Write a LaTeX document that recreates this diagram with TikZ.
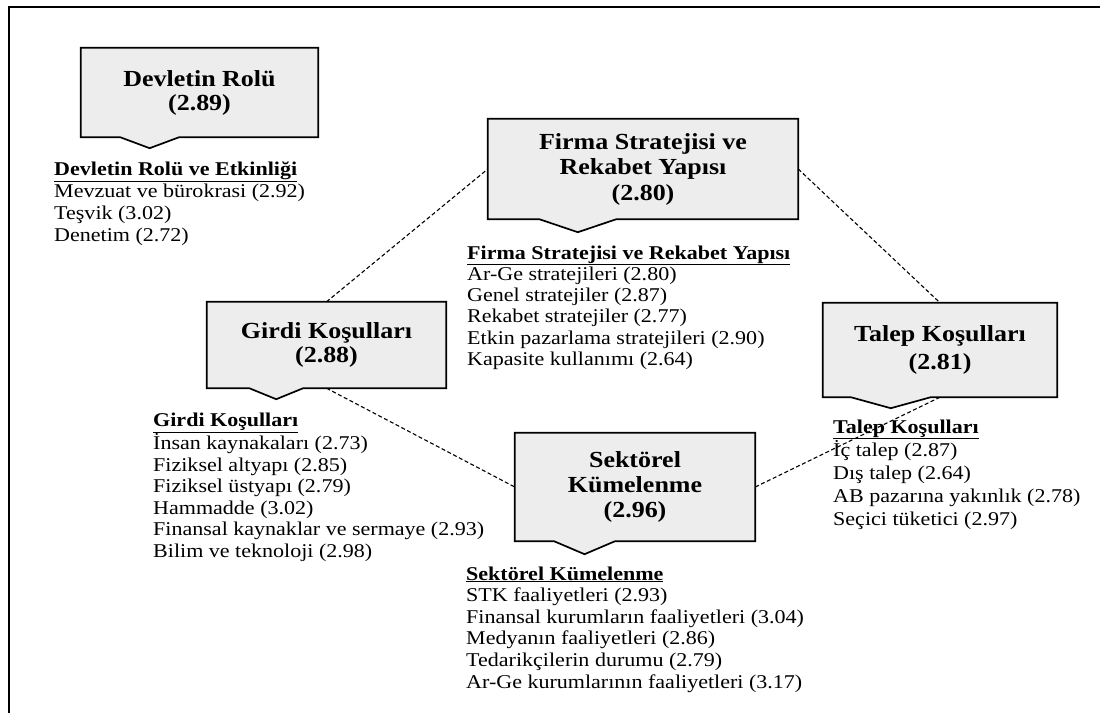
\documentclass[tikz,border=0pt]{standalone}
\usepackage{fontspec}
\setmainfont{Liberation Serif}[FakeStretch=1.13]
\usetikzlibrary{calc,backgrounds}

% Callout outline behind a box node: #1 node, #2 half width of the pointer, #3 pointer depth
\newcommand\calloutpath[3]{%
  \begin{pgfonlayer}{background}
    \coordinate (#1-p) at ($(#1.south west)!0.29!(#1.south east)$);
    \filldraw[boxline] (#1.north west) -- (#1.north east) -- (#1.south east)
      -- ([xshift=#2pt]#1-p) -- ([yshift=-#3pt]#1-p) -- ([xshift=-#2pt]#1-p)
      -- (#1.south west) -- cycle;
  \end{pgfonlayer}}

\begin{document}
\begin{tikzpicture}[x=1pt,y=-1pt,
  boxline/.style={draw=black,line width=1.7pt,fill=black!7},
  titlebox/.style={font=\fontsize{23}{24}\selectfont\bfseries,align=center,inner sep=0pt},
  % lists are placed by the baseline of their last line
  listtext/.style={font=\fontsize{19.5}{21.5}\selectfont,align=left,anchor=base west,inner sep=0pt},
  link/.style={line width=1.1pt,dash pattern=on 4pt off 2.5pt}]
\useasboundingbox (0,0) rectangle (1100,713);

% frame
\draw[line width=2.2pt] (9,713) -- (9,7) -- (1100,7);

% factor boxes
\node[titlebox,minimum width=237,minimum height=89] (devlet) at (199.5,92.5)
  {Devletin Rolü\\(2.89)};
\node[titlebox,minimum width=310,minimum height=100,font=\fontsize{23}{25.5}\selectfont\bfseries] (firma) at (643,169)
  {Firma Stratejisi ve\\Rekabet Yapısı\\(2.80)};
\node[titlebox,minimum width=239,minimum height=86] (girdi) at (326.5,345)
  {Girdi Koşulları\\(2.88)};
\node[titlebox,minimum width=240,minimum height=108,font=\fontsize{23}{25}\selectfont\bfseries] (sektor) at (635,487)
  {Sektörel\\Kümelenme\\(2.96)};
\node[titlebox,minimum width=234,minimum height=94,font=\fontsize{23}{28}\selectfont\bfseries] (talep) at (940,350)
  {Talep Koşulları\\(2.81)};

\calloutpath{devlet}{29.5}{11}
\calloutpath{firma}{38.5}{13}
\calloutpath{girdi}{27}{11}
\calloutpath{sektor}{30.5}{13}
\calloutpath{talep}{40}{11}

% links between the factors
\draw[link] (girdi.north) -- (firma.west);
\draw[link] (firma.east) -- (talep.north);
\draw[link] (girdi.south) -- (sektor.west);
\draw[link] (sektor.east) -- (talep.south);

% item lists
\node[listtext,font=\fontsize{19.5}{22}\selectfont] (devletlist) at (54,241)
  {\underline{\textbf{Devletin Rolü ve Etkinliği}}\\
   Mevzuat ve bürokrasi (2.92)\\
   Teşvik (3.02)\\
   Denetim (2.72)};
\node[listtext,font=\fontsize{19.5}{21.3}\selectfont] (firmalist) at (467,365.5)
  {\underline{\textbf{Firma Stratejisi ve Rekabet Yapısı}}\\
   Ar-Ge stratejileri (2.80)\\
   Genel stratejiler (2.87)\\
   Rekabet stratejiler (2.77)\\
   Etkin pazarlama stratejileri (2.90)\\
   Kapasite kullanımı (2.64)};
\node[listtext] (girdilist) at (153,557)
  {\underline{\textbf{Girdi Koşulları}}\\
   İnsan kaynakaları (2.73)\\
   Fiziksel altyapı (2.85)\\
   Fiziksel üstyapı (2.79)\\
   Hammadde (3.02)\\
   Finansal kaynaklar ve sermaye (2.93)\\
   Bilim ve teknoloji (2.98)};
\node[listtext,font=\fontsize{19.5}{21.6}\selectfont] (sektorlist) at (466,688)
  {\underline{\textbf{Sektörel Kümelenme}}\\
   STK faaliyetleri (2.93)\\
   Finansal kurumların faaliyetleri (3.04)\\
   Medyanın faaliyetleri (2.86)\\
   Tedarikçilerin durumu (2.79)\\
   Ar-Ge kurumlarının faaliyetleri (3.17)};
\node[listtext,font=\fontsize{19.5}{23}\selectfont] (taleplist) at (833,525)
  {\underline{\textbf{Talep Koşulları}}\\
   İç talep (2.87)\\
   Dış talep (2.64)\\
   AB pazarına yakınlık (2.78)\\
   Seçici tüketici (2.97)};
\end{tikzpicture}
\end{document}
